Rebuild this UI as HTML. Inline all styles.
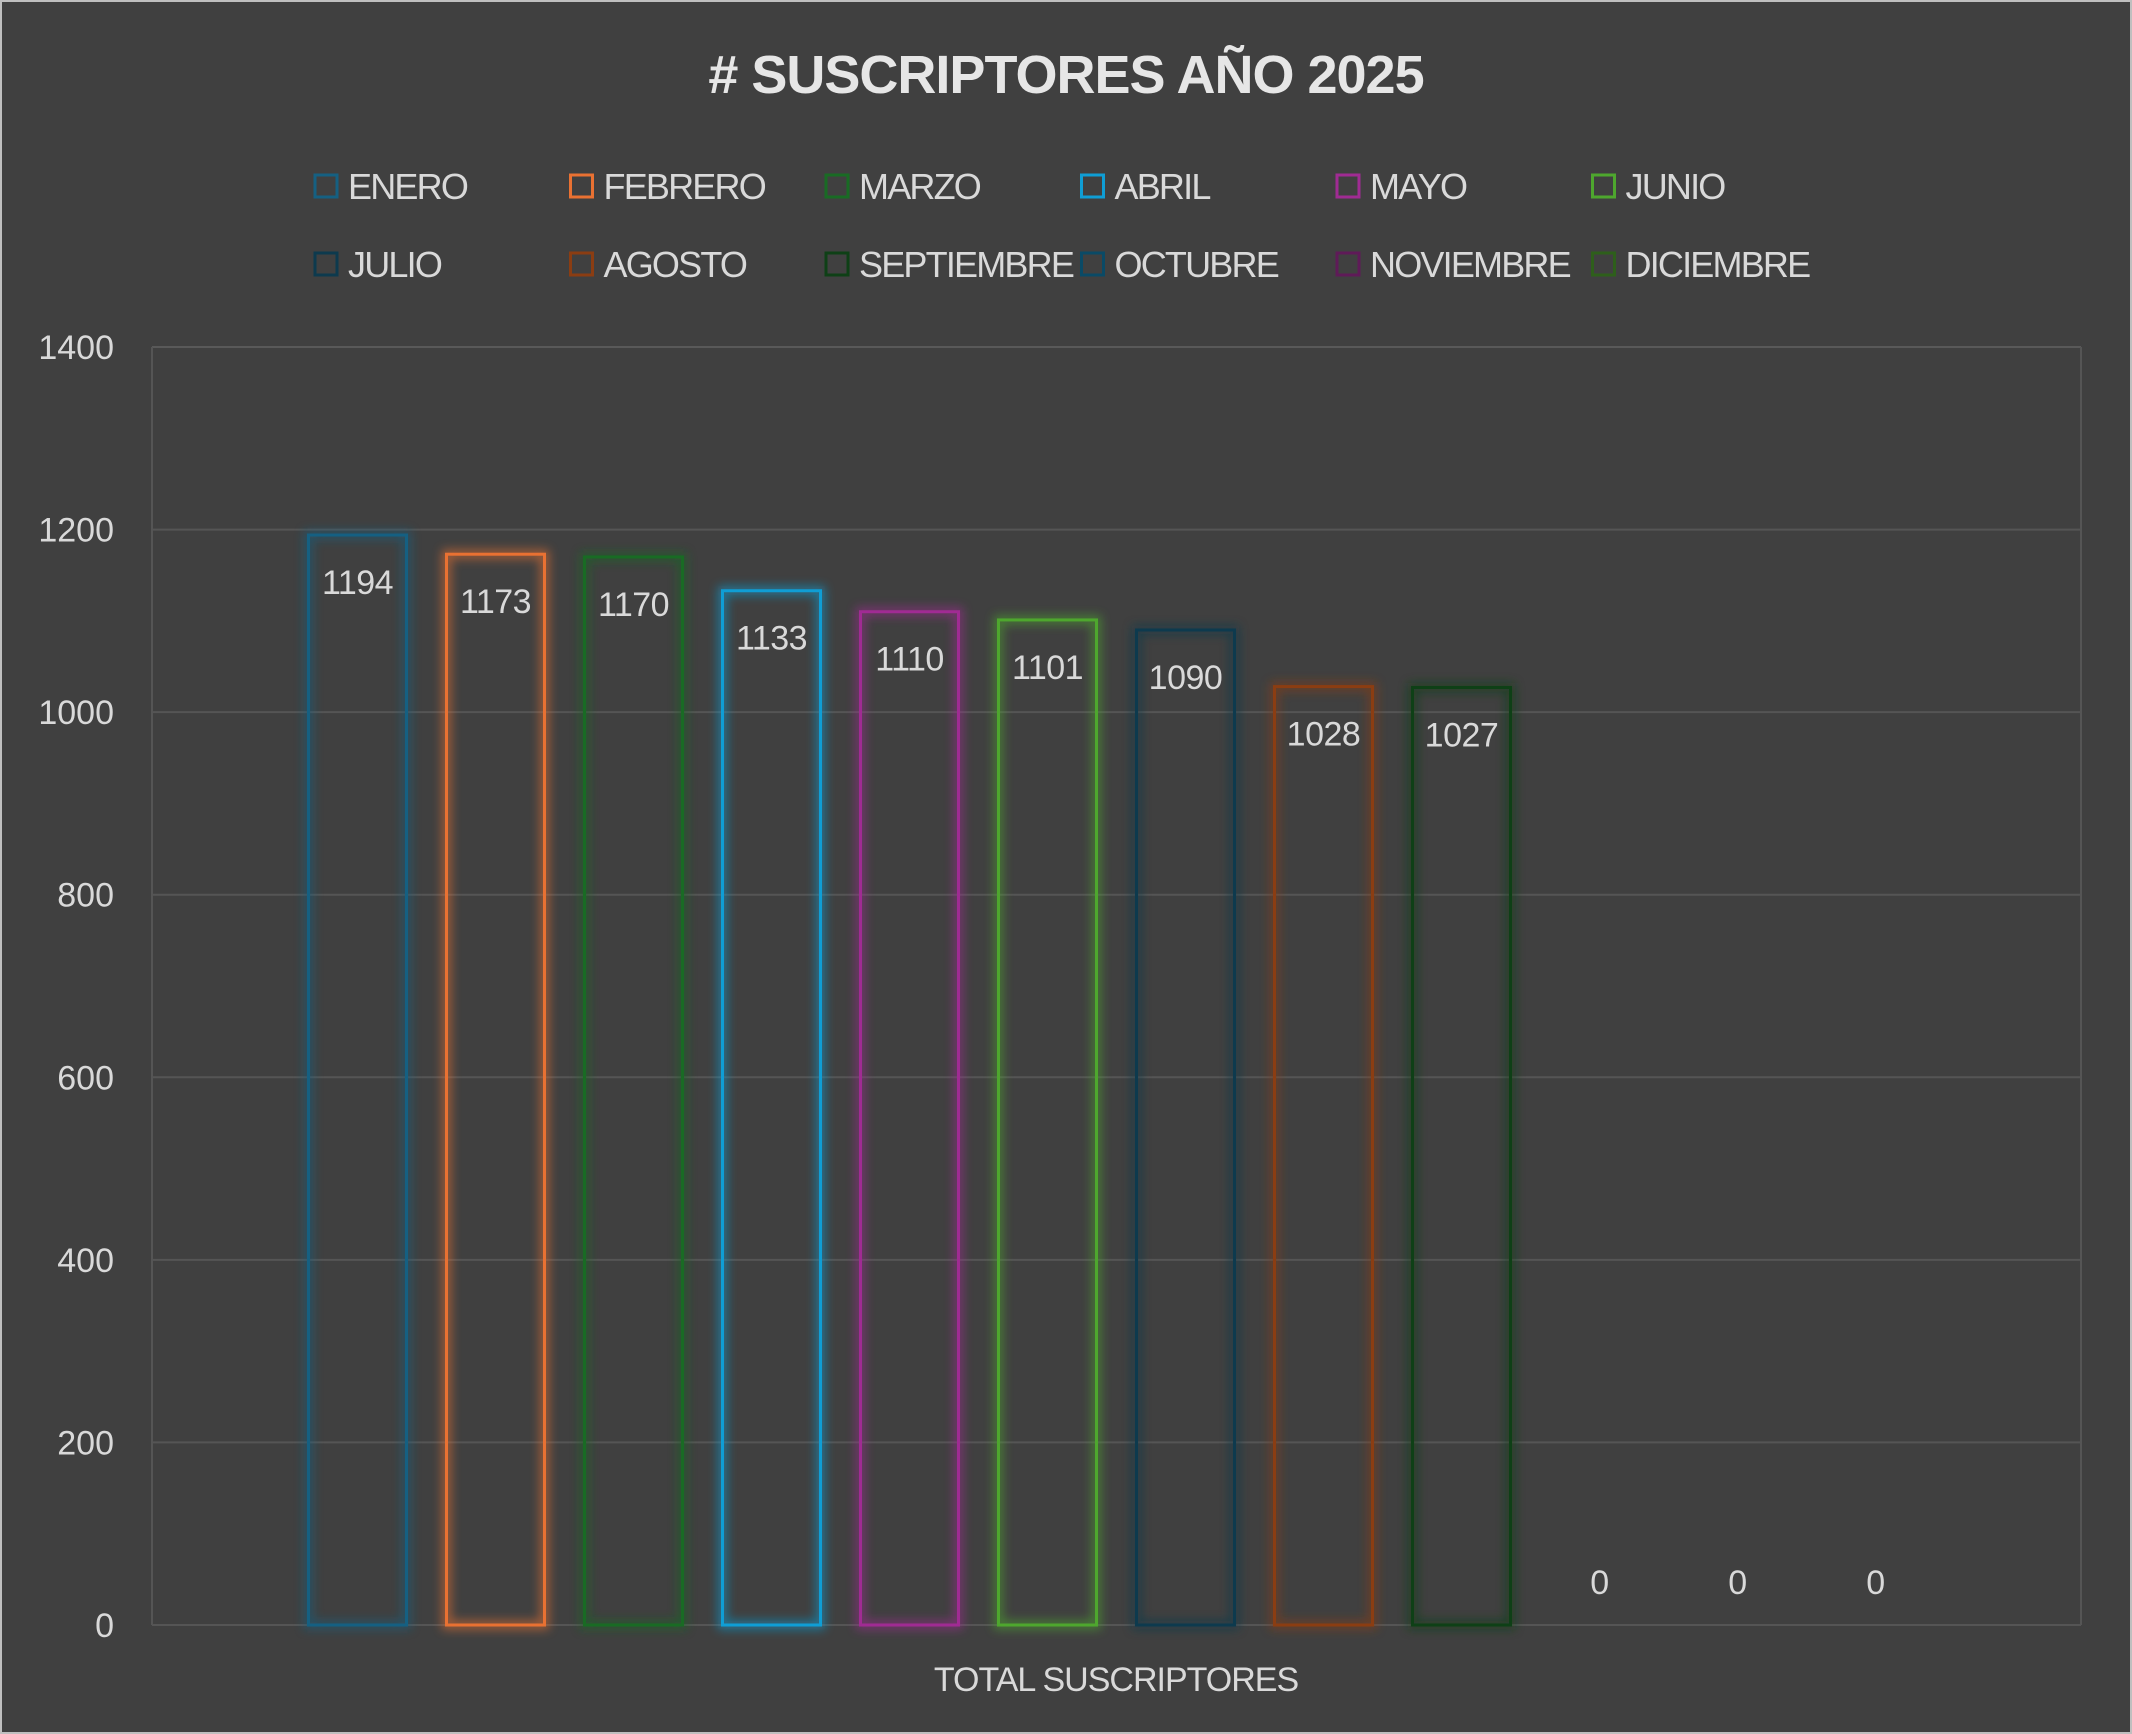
<!DOCTYPE html>
<html><head><meta charset="utf-8"><style>
html,body{margin:0;padding:0;background:#404040;}
svg{display:block;}
text{font-family:"Liberation Sans",sans-serif;fill:#d9d9d9;}
</style></head><body>
<svg id="chart" width="2132" height="1734" viewBox="0 0 2132 1734" xmlns="http://www.w3.org/2000/svg">
<defs><filter id="glow" x="-50%" y="-50%" width="200%" height="200%"><feGaussianBlur stdDeviation="5"/></filter></defs>
<rect x="1" y="1" width="2130" height="1732" fill="#404040" stroke="#bfbfbf" stroke-width="2"/>
<text x="1066" y="93" text-anchor="middle" font-size="54" font-weight="bold" letter-spacing="-1" style="fill:#e6e6e6">#  SUSCRIPTORES AÑO 2025</text>
<g id="grid"></g><g id="legend"></g><g id="bars"></g>
<text x="1116" y="1691" text-anchor="middle" font-size="34" letter-spacing="-1">TOTAL SUSCRIPTORES</text>
</svg>
<script>
const months = ["ENERO","FEBRERO","MARZO","ABRIL","MAYO","JUNIO","JULIO","AGOSTO","SEPTIEMBRE","OCTUBRE","NOVIEMBRE","DICIEMBRE"];
const values = [1194,1173,1170,1133,1110,1101,1090,1028,1027,0,0,0];
const colors = ["#156082","#e97132","#196b24","#0f9ed5","#a02b93","#4ea72e","#0d3a4e","#8b3d12","#0e4016","#0a4a66","#5f1a58","#2e5f1b"];
const yTicks = [0,200,400,600,800,1000,1200,1400];
const NS="http://www.w3.org/2000/svg";
const L=152,R=2081,T=347,B=1625,YMAX=1400;
const y=v=>B-(v/YMAX)*(B-T);
const cx=(L+R)/2, step=138, bw=98;
const x=i=>cx+(i-(months.length-1)/2)*step;
function mk(tag,attrs,parent){const e=document.createElementNS(NS,tag);for(const k in attrs)e.setAttribute(k,attrs[k]);parent.appendChild(e);return e;}
const grid=document.getElementById('grid');
yTicks.forEach(t=>{
  const ln=mk('line',{x1:L,x2:R,y1:y(t),y2:y(t),stroke:t===YMAX?'#595959':'#555555','stroke-width':2},grid);
  
  
  const tx=mk('text',{x:114,y:y(t)+12,'text-anchor':'end','font-size':34},grid);
  tx.textContent=t;
  
  
});
const side1=mk('line',{x1:L,x2:L,y1:T,y2:B,stroke:'#555555','stroke-width':2},grid);


const side2=mk('line',{x1:R,x2:R,y1:T,y2:B,stroke:'#555555','stroke-width':2},grid);


const bars=document.getElementById('bars');
values.forEach((v,i)=>{
  const top=y(v),h=B-top;
  if(v>0){
    const g=mk('rect',{x:x(i)-bw/2,y:top,width:bw,height:h,fill:'none',stroke:colors[i],'stroke-width':9,opacity:0.6,filter:'url(#glow)'},bars);
    
    
    const b=mk('rect',{x:x(i)-bw/2,y:top,width:bw,height:h,fill:'none',stroke:colors[i],'stroke-width':3},bars);
    
    
  }
  const ly=v>0?top+59:B-31;
  const t=mk('text',{x:x(i),y:ly,'text-anchor':'middle','font-size':34,'letter-spacing':-0.5},bars);
  t.textContent=v;
  
  
});
const legend=document.getElementById('legend');
months.forEach((m,i)=>{
  const col=i%6,row=Math.floor(i/6);
  const lx=315+col*255.5,ly=186+row*78;
  const s=mk('rect',{x:lx,y:ly-11,width:22,height:22,fill:'none',stroke:colors[i],'stroke-width':3},legend);
  
  
  const t=mk('text',{x:lx+33,y:ly+13,'font-size':36,'letter-spacing':-1.8},legend);
  t.textContent=m;
  
  
});
</script>
</body></html>
